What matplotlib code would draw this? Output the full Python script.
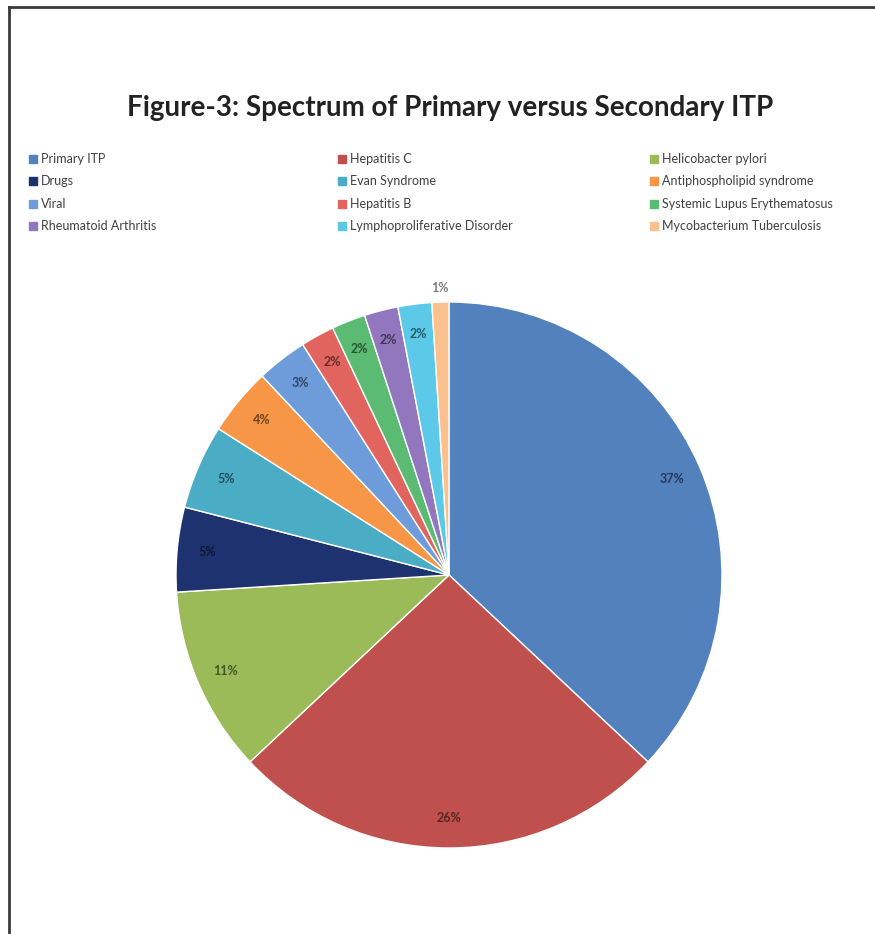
import matplotlib.pyplot as plt
from matplotlib.colors import to_rgb
from matplotlib.lines import Line2D
from matplotlib.patches import Rectangle

# causes of ITP, share of patients (%)
causes = [
    'Primary ITP', 'Hepatitis C', 'Helicobacter pylori',
    'Drugs', 'Evan Syndrome', 'Antiphospholipid syndrome',
    'Viral', 'Hepatitis B', 'Systemic Lupus Erythematosus',
    'Rheumatoid Arthritis', 'Lymphoproliferative Disorder', 'Mycobacterium Tuberculosis',
]
share = [37, 26, 11, 5, 5, 4, 3, 2, 2, 2, 2, 1]
colors = [
    '#5381BE', '#C0504D', '#9BBB59',
    '#1E3270', '#4BACC6', '#F79646',
    '#6E9BDA', '#E2645F', '#5CBB72',
    '#9277BE', '#5CC9E8', '#FAC08E',
]

plt.rcParams['font.family'] = ['Lato', 'DejaVu Sans']

fig = plt.figure(figsize=(8.75, 9.34), dpi=100)
W, H = 875, 934


def fx(px):
    return px / W


def fy(py):
    return 1 - py / H


# frame around the chart
fig.add_artist(Line2D([fx(9), 1.0], [fy(7), fy(7)], color='#3a3a3a', lw=2))
fig.add_artist(Line2D([fx(9), fx(9)], [fy(7), 0.0], color='#3a3a3a', lw=2))

fig.text(fx(450), fy(108), 'Figure-3: Spectrum of Primary versus Secondary ITP',
         ha='center', va='center', fontsize=20, fontweight='bold', color='#222222')

# legend, filled row by row in three columns
col_x = [29, 338, 650]
row_y = [159, 181, 204, 226]
for i, (name, c) in enumerate(zip(causes, colors)):
    x = col_x[i % 3]
    y = row_y[i // 3]
    fig.add_artist(Rectangle((fx(x), fy(y + 4)), 8 / W, 8 / H, color=c,
                             transform=fig.transFigure))
    fig.text(fx(x + 12), fy(y), name, ha='left', va='center',
             fontsize=9, color='#404040')

cx, cy, r = 449, 575, 273
ax = fig.add_axes([fx(cx - r), fy(cy + r), 2 * r / W, 2 * r / H])
wedges, texts, autotexts = ax.pie(
    share, colors=colors, startangle=90, counterclock=False,
    autopct='%.0f%%', pctdistance=0.89,
    wedgeprops=dict(edgecolor='white', linewidth=1),
    textprops=dict(fontsize=9, fontweight='bold'))
ax.set_xlim(-1, 1)
ax.set_ylim(-1, 1)
ax.set_aspect('equal')

for t, c in zip(autotexts, colors):
    t.set_color(tuple(v * 0.45 for v in to_rgb(c)))

# smallest slice labelled just outside the pie
x, y = autotexts[-1].get_position()
autotexts[-1].set_position((x / 0.89 * 1.05, y / 0.89 * 1.05))
autotexts[-1].set_color('#7f7f7f')

fig.savefig('out.png', dpi=100, facecolor='white')
